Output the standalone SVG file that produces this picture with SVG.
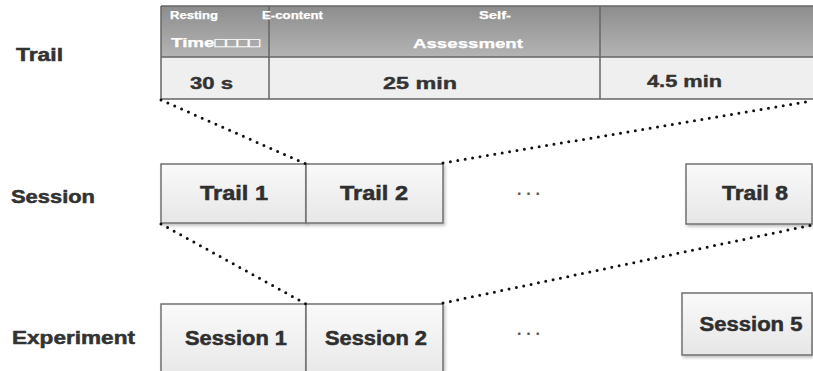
<svg xmlns="http://www.w3.org/2000/svg" width="813" height="371" viewBox="0 0 813 371">
<defs>
<linearGradient id="hdr" x1="0" y1="0" x2="0" y2="1">
<stop offset="0" stop-color="#8d8d8d"/>
<stop offset="1" stop-color="#b4b4b4"/>
</linearGradient>
<linearGradient id="box" x1="0" y1="0" x2="0" y2="1">
<stop offset="0" stop-color="#fafafa"/>
<stop offset="1" stop-color="#e6e6e6"/>
</linearGradient>
<filter id="sh" x="-10%" y="-10%" width="130%" height="130%">
<feDropShadow dx="1.5" dy="2" stdDeviation="1.5" flood-color="#000" flood-opacity="0.25"/>
</filter>
</defs>
<style>
text{font-family:"Liberation Sans",Arial,sans-serif;font-weight:bold}
.lbl{fill:#333;stroke:#333;stroke-width:0.5;font-size:17.5px}
.node{fill:#2f2f2f;stroke:#2f2f2f;stroke-width:0.5;font-size:19.5px;text-anchor:middle}
.val{fill:#333;stroke:#333;stroke-width:0.4;font-size:17px}
.h{fill:#fff;stroke:#fff;stroke-width:0.25}
.box{fill:url(#box);stroke:#707070;stroke-width:1.5;filter:url(#sh)}
.dot{fill:none;stroke:#111;stroke-width:3;stroke-linecap:round;stroke-dasharray:0 7.5}
.ell{fill:#555;font-size:16px}
</style>
<rect width="813" height="371" fill="#fff"/>

<g id="labels">
<text class="lbl" x="16" y="61" textLength="47" lengthAdjust="spacingAndGlyphs">Trail</text>
<text class="lbl" x="11" y="203" textLength="84" lengthAdjust="spacingAndGlyphs">Session</text>
<text class="lbl" x="12" y="344" textLength="123" lengthAdjust="spacingAndGlyphs">Experiment</text>
</g>

<g id="trail-table">
<rect x="161" y="6" width="652" height="51" fill="url(#hdr)"/>
<rect x="161" y="57" width="652" height="42" fill="#efefef"/>
<path d="M161 6H813M161 57H813M161 99H813M161 6V99M269 6V99M600 6V99" fill="none" stroke="#666" stroke-width="1.5"/>
<text class="h" x="170" y="19" font-size="10" textLength="48" lengthAdjust="spacingAndGlyphs">Resting</text>
<text class="h" x="262" y="19" font-size="10" textLength="61" lengthAdjust="spacingAndGlyphs">E-content</text>
<text class="h" x="479" y="19" font-size="10" textLength="32" lengthAdjust="spacingAndGlyphs">Self-</text>
<text class="h" x="171" y="47" font-size="12.5" textLength="89" lengthAdjust="spacingAndGlyphs">Time□□□□</text>
<text class="h" x="413" y="48" font-size="13.5" textLength="110" lengthAdjust="spacingAndGlyphs">Assessment</text>
<text class="val" x="190" y="89" textLength="43" lengthAdjust="spacingAndGlyphs">30 s</text>
<text class="val" x="383" y="89" textLength="74" lengthAdjust="spacingAndGlyphs">25 min</text>
<text class="val" x="647" y="87" textLength="75" lengthAdjust="spacingAndGlyphs">4.5 min</text>
</g>

<g id="trail1">
<rect class="box" x="161" y="164" width="145" height="59"/>
<text class="node" x="234" y="200" textLength="68" lengthAdjust="spacingAndGlyphs">Trail 1</text>
</g>
<g id="trail2">
<rect class="box" x="306" y="164" width="137" height="59"/>
<text class="node" x="374" y="200" textLength="68" lengthAdjust="spacingAndGlyphs">Trail 2</text>
</g>
<g id="ellipsis1"><text class="ell" x="517" y="195" textLength="23" lengthAdjust="spacing">...</text></g>
<g id="trail8">
<rect class="box" x="686" y="164" width="126" height="60"/>
<text class="node" x="755" y="200" textLength="66" lengthAdjust="spacingAndGlyphs">Trail 8</text>
</g>

<g id="session1">
<rect class="box" x="161" y="304" width="145" height="80"/>
<text class="node" x="236" y="345" font-size="18" textLength="102" lengthAdjust="spacingAndGlyphs">Session 1</text>
</g>
<g id="session2">
<rect class="box" x="306" y="304" width="137" height="80"/>
<text class="node" x="376" y="345" font-size="18" textLength="102" lengthAdjust="spacingAndGlyphs">Session 2</text>
</g>
<g id="ellipsis2"><text class="ell" x="517" y="335" textLength="23" lengthAdjust="spacing">...</text></g>
<g id="session5">
<rect class="box" x="682" y="293" width="130" height="62"/>
<text class="node" x="751" y="331" font-size="18" textLength="103" lengthAdjust="spacingAndGlyphs">Session 5</text>
</g>

<g id="connectors">
<line class="dot" x1="161" y1="100" x2="306" y2="164"/>
<line class="dot" x1="443" y1="163" x2="812" y2="101"/>
<line class="dot" x1="161" y1="224" x2="306" y2="304"/>
<line class="dot" x1="443" y1="303" x2="812" y2="225"/>
</g>
</svg>
